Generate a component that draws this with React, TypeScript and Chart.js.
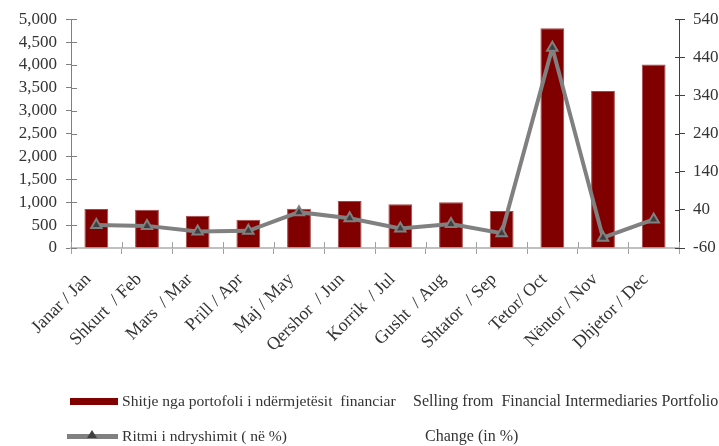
import React, { useEffect, useRef } from "react";
import { Chart, registerables } from "chart.js";

Chart.register(...registerables);

const months = [
  "Janar / Jan",
  "Shkurt  / Feb",
  "Mars  / Mar",
  "Prill / Apr",
  "Maj / May",
  "Qershor  / Jun",
  "Korrik  / Jul",
  "Gusht  / Aug",
  "Shtator  / Sep",
  "Tetor/ Oct",
  "Nëntor / Nov",
  "Dhjetor / Dec",
];
const sales = [850, 835, 705, 620, 860, 1025, 955, 1000, 810, 4800, 3430, 4010];
const change = [0, -2, -17, -15, 34, 18, -9, 3, -21, 465, -33, 15];

const salesLabelSq = "Shitje nga portofoli i ndërmjetësit  financiar";
const salesLabelEn = "Selling from  Financial Intermediaries Portfolio";
const changeLabelSq = "Ritmi i ndryshimit ( në %)";
const changeLabelEn = "Change (in %)";

const FONT = "'Liberation Serif', 'Times New Roman', serif";
const TEXT = "#333333";

const crossTicks = {
  id: "crossTicks",
  beforeDatasetsDraw(chart: any) {
    const ctx = chart.ctx;
    const { left, right, bottom } = chart.chartArea;
    const y = chart.scales.y;
    const y1 = chart.scales.y1;
    const x = chart.scales.x;
    ctx.save();
    ctx.lineWidth = 1;
    ctx.strokeStyle = "#808080";
    y.ticks.forEach((_t: any, i: number) => {
      const py = Math.round(y.getPixelForTick(i)) + 0.5;
      ctx.beginPath();
      ctx.moveTo(left, py);
      ctx.lineTo(left + 6, py);
      ctx.stroke();
    });
    ctx.strokeStyle = "#404040";
    y1.ticks.forEach((_t: any, i: number) => {
      const py = Math.round(y1.getPixelForTick(i)) + 0.5;
      ctx.beginPath();
      ctx.moveTo(right - 4, py);
      ctx.lineTo(right, py);
      ctx.stroke();
    });
    ctx.strokeStyle = "#a0a0a0";
    for (let i = 0; i <= months.length; i++) {
      const px = Math.round(x.getPixelForValue(i - 0.5)) + 0.5;
      ctx.beginPath();
      ctx.moveTo(px, bottom - 6);
      ctx.lineTo(px, bottom);
      ctx.stroke();
    }
    ctx.restore();
  },
};

export default function App() {
  const ref = useRef<HTMLCanvasElement | null>(null);

  useEffect(() => {
    if (!ref.current) return;
    const chart = new Chart(ref.current, {
      type: "bar",
      data: {
        labels: months,
        datasets: [
          {
            type: "line",
            label: changeLabelSq,
            data: change,
            yAxisID: "y1",
            borderColor: "#808080",
            borderWidth: 4,
            pointStyle: "triangle",
            pointRadius: 6,
            pointBorderWidth: 2,
            pointBackgroundColor: "#404040",
            pointBorderColor: "#808080",
            tension: 0,
            order: 0,
          } as any,
          {
            type: "bar",
            label: salesLabelSq,
            data: sales,
            yAxisID: "y",
            backgroundColor: "#800000",
            borderColor: "#a04848",
            borderWidth: 1,
            barPercentage: 0.47,
            categoryPercentage: 1,
            order: 1,
          },
        ],
      },
      options: {
        animation: false,
        responsive: true,
        maintainAspectRatio: false,
        layout: { padding: { top: 19, left: 0, right: 0, bottom: 0 } },
        plugins: {
          legend: { display: false },
          tooltip: { enabled: false },
        },
        scales: {
          x: {
            grid: {
              display: true,
              drawOnChartArea: false,
              offset: true,
              tickLength: 6,
              color: "#a0a0a0",
            },
            border: { display: true, color: "#c0c0c0", width: 2 },
            ticks: {
              autoSkip: false,
              minRotation: 45,
              maxRotation: 45,
              color: TEXT,
              font: { family: FONT, size: 18 },
              padding: 15,
              labelOffset: -8,
            },
            afterFit(scale: any) {
              scale.height = 198;
            },
          },
          y: {
            position: "left",
            min: 0,
            max: 5000,
            ticks: {
              stepSize: 500,
              autoSkip: false,
              color: TEXT,
              font: { family: FONT, size: 17 },
              padding: 9,
            },
            grid: {
              display: true,
              drawOnChartArea: false,
              tickLength: 5,
              color: "#808080",
            },
            border: { display: true, color: "#808080", width: 1 },
            afterFit(scale: any) {
              scale.width = 71;
            },
          },
          y1: {
            position: "right",
            min: -60,
            max: 540,
            ticks: {
              stepSize: 100,
              autoSkip: false,
              color: TEXT,
              font: { family: FONT, size: 17 },
              padding: 8,
            },
            grid: {
              display: true,
              drawOnChartArea: false,
              tickLength: 6,
              color: "#404040",
            },
            border: { display: true, color: "#404040", width: 1 },
            afterFit(scale: any) {
              scale.width = 40;
            },
          },
        },
      },
      plugins: [crossTicks],
    });
    return () => chart.destroy();
  }, []);

  const textStyle: React.CSSProperties = {
    position: "absolute",
    fontFamily: FONT,
    fontSize: 16,
    color: TEXT,
    whiteSpace: "pre",
    lineHeight: "18px",
  };
  const sqStyle: React.CSSProperties = { ...textStyle, fontSize: 15.6 };

  return (
    <div
      style={{
        position: "absolute",
        left: 0,
        top: 0,
        width: 719,
        height: 446,
        background: "#ffffff",
        overflow: "hidden",
      }}
    >
      <canvas ref={ref} />
      <div
        style={{
          position: "absolute",
          left: 70,
          top: 398,
          width: 48,
          height: 7,
          background: "#800000",
        }}
      />
      <div style={{ ...sqStyle, left: 122, top: 392 }}>{salesLabelSq}</div>
      <div style={{ ...textStyle, left: 413, top: 392 }}>{salesLabelEn}</div>
      <div
        style={{
          position: "absolute",
          left: 67,
          top: 434,
          width: 51,
          height: 5,
          background: "#808080",
        }}
      />
      <div
        style={{
          position: "absolute",
          left: 87,
          top: 430,
          width: 0,
          height: 0,
          borderLeft: "5px solid transparent",
          borderRight: "5px solid transparent",
          borderBottom: "8px solid #404040",
        }}
      />
      <div style={{ ...sqStyle, left: 122, top: 427 }}>{changeLabelSq}</div>
      <div style={{ ...textStyle, left: 425, top: 427 }}>{changeLabelEn}</div>
    </div>
  );
}
